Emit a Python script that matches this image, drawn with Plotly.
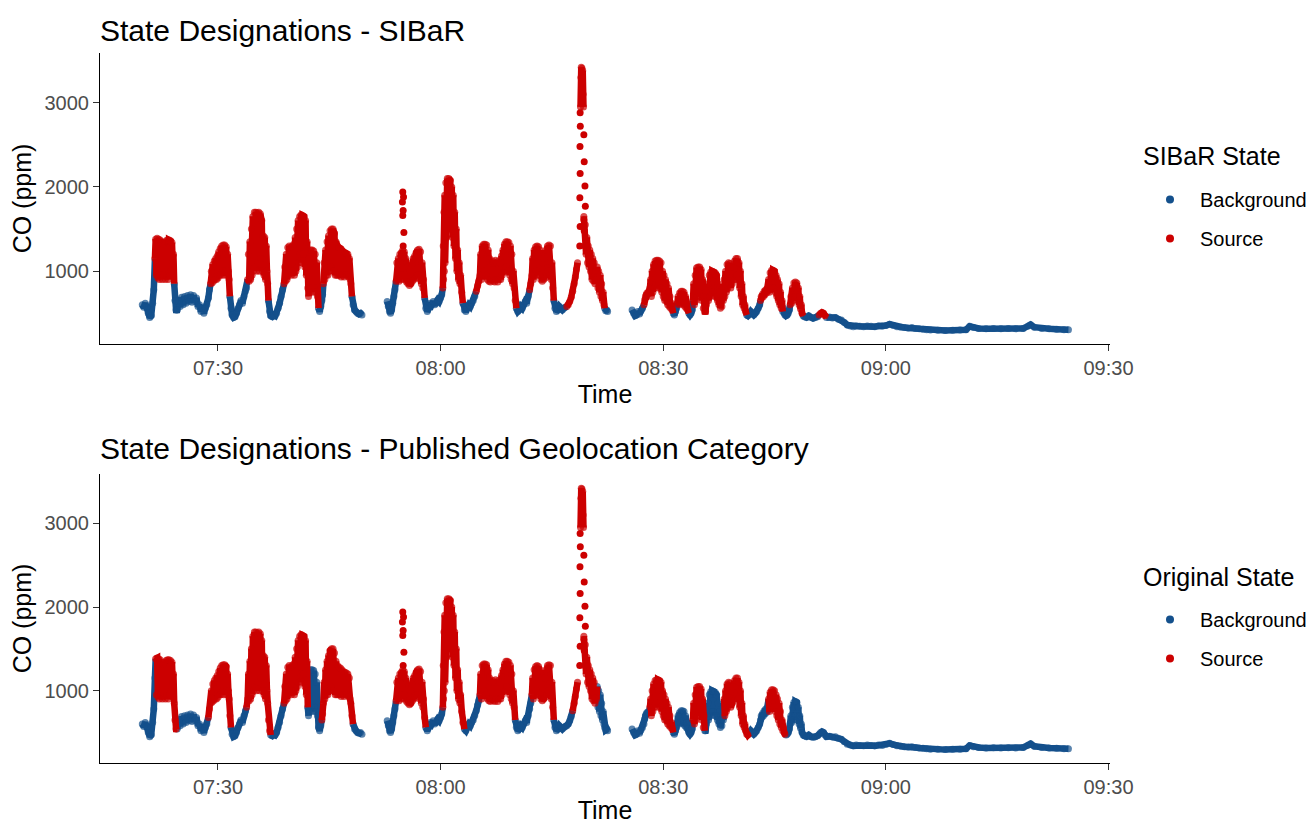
import pandas as pd
import plotly.graph_objects as go

BASE = pd.Timestamp("2019-01-01 07:00:00")
BLUE = "#14508C"
RED = "#CC0000"
FONT = "Liberation Sans, Arial, sans-serif"

# ---------------- data (time in minutes after 07:00, CO in ppm) ----------------
# segment A : 07:19.8 - 07:49.4
seg_a_t = [19.8, 20.0, 20.2, 20.4, 20.6, 20.8, 21.0, 21.2, 21.35,
           21.5, 21.6, 21.7, 21.8, 21.9, 22.0, 22.1, 22.2, 22.3, 22.4, 22.5, 22.6, 22.7,
           22.8, 22.9, 23.0, 23.1, 23.2, 23.3, 23.4, 23.5, 23.6, 23.7, 23.8, 23.9, 24.0,
           24.1, 24.2, 24.35, 24.5, 24.7, 24.9, 25.1, 25.3, 25.5, 25.7, 25.9, 26.1, 26.3,
           26.5, 26.7, 26.9, 27.1, 27.3, 27.5, 27.7, 27.9, 28.1, 28.3, 28.5, 28.7, 28.85,
           29.0, 29.1, 29.2, 29.3, 29.4, 29.5, 29.6, 29.7, 29.8, 29.9, 30.0, 30.1, 30.2,
           30.3, 30.4, 30.5, 30.6, 30.7, 30.8, 30.9, 31.0, 31.1, 31.2, 31.3, 31.4, 31.5,
           31.6, 31.75, 31.9, 32.1, 32.3, 32.5, 32.7, 32.9, 33.1, 33.3, 33.5, 33.7, 33.85,
           34.0, 34.1, 34.2, 34.3, 34.4, 34.5, 34.6, 34.7, 34.8, 34.9, 35.0, 35.1, 35.2,
           35.3, 35.4, 35.5, 35.6, 35.7, 35.8, 35.9, 36.0, 36.1, 36.2, 36.3, 36.4, 36.5,
           36.6, 36.7,
           36.8, 36.95, 37.1, 37.3, 37.5, 37.7, 37.9, 38.1, 38.3, 38.5, 38.7,
           38.9, 39.0, 39.1, 39.2, 39.3, 39.4, 39.5, 39.6, 39.7, 39.8, 39.9,
           40.0, 40.1, 40.2, 40.3, 40.4, 40.5, 40.6, 40.7, 40.8, 40.9,
           41.0, 41.1, 41.2, 41.3, 41.4, 41.5, 41.6, 41.7, 41.8, 41.9,
           42.0, 42.1, 42.2, 42.3, 42.4, 42.5, 42.6, 42.7, 42.8, 42.9,
           43.0, 43.1, 43.2, 43.3, 43.4,
           43.55, 43.7, 43.85, 44.0, 44.1,
           44.2, 44.3, 44.4, 44.5, 44.6, 44.7, 44.8, 44.9, 45.0, 45.1, 45.2, 45.3, 45.4,
           45.5, 45.6, 45.7, 45.8, 45.9, 46.0, 46.1, 46.2, 46.3, 46.4, 46.5, 46.6, 46.7,
           46.8, 46.9, 47.0, 47.1, 47.2, 47.3, 47.4, 47.5, 47.6, 47.7, 47.8, 47.9,
           48.05, 48.2, 48.4, 48.6, 48.8, 49.0, 49.2, 49.4]
seg_a_co = [600, 570, 620, 570, 500, 450, 470, 620, 780,
            1150, 1380, 950, 1390, 920, 1380, 900, 1370, 950, 1340, 900, 1320, 950,
            1340, 900, 1360, 940, 1370, 900, 1370, 950, 1360, 1000, 1340, 1100, 1200,
            850, 650, 540, 540, 640, 580, 690, 600, 700, 620, 710, 640, 720,
            630, 710, 640, 680, 580, 600, 520, 560, 500, 560, 600, 680, 780,
            850, 1000, 860, 1080, 880, 1120, 900, 1150, 900, 1180, 920, 1230, 950,
            1270, 950, 1300, 1000, 1310, 950, 1310, 1000, 1290, 950, 1200, 1000, 900,
            700, 560, 480, 450, 460, 500, 560, 600, 650, 620, 700, 760, 800,
            900, 1200, 880, 1350, 900, 1500, 950, 1650, 1000, 1700, 1050, 1700, 1000,
            1690, 1100, 1700, 1000, 1680, 1150, 1600, 1000, 1420, 950, 1400, 900, 1300,
            1000, 850,
            650, 520, 470, 460, 480, 470, 500, 560, 620, 700, 780,
            850, 1050, 880, 1200, 900, 1280, 950, 1300, 1000, 1280, 950,
            1300, 1000, 1320, 950, 1400, 1000, 1500, 1050, 1600, 1100,
            1650, 1200, 1670, 1100, 1660, 1200, 1650, 1050, 1600, 950,
            1350, 800, 700, 1150, 750, 1250, 800, 1250, 750, 1240,
            800, 1200, 750, 1100, 700,
            560, 520, 580, 650, 720,
            850, 1100, 900, 1250, 950, 1350, 950, 1420, 1000, 1480, 1050, 1500, 1000,
            1500, 1000, 1450, 950, 1350, 950, 1300, 950, 1280, 950, 1270, 930, 1250,
            950, 1230, 930, 1220, 950, 1210, 950, 1200, 930, 1150, 900, 850,
            700, 600, 540, 520, 500, 490, 500, 480]

# segment B : 07:52.8 - 08:22.5 (None = no dense reading, spike edges are sparse dots)
seg_b_t = [52.8, 52.95, 53.1, 53.25, 53.4, 53.55, 53.7, 53.85,
           54.0, 54.1, 54.2, 54.3, 54.4, 54.5, 54.6, 54.7, 54.8, 54.9,
           55.0, 55.1, 55.2, 55.3, 55.4, 55.5, 55.6, 55.7, 55.8, 55.9,
           56.0, 56.1, 56.2, 56.3, 56.4, 56.5, 56.6, 56.7, 56.8, 56.9,
           57.0, 57.1, 57.2, 57.3, 57.4, 57.5, 57.6, 57.7,
           57.85, 58.0, 58.2, 58.4, 58.6, 58.8, 59.0, 59.2, 59.4, 59.6, 59.8, 60.0, 60.15,
           60.3, 60.35, 60.4, 60.45, 60.5, 60.55, 60.6, 60.7, 60.8, 60.9, 61.0, 61.1, 61.2,
           61.3, 61.4, 61.5, 61.6, 61.7, 61.8, 61.9, 62.0, 62.1, 62.2, 62.3, 62.4, 62.5,
           62.6, 62.7, 62.85,
           63.0, 63.2, 63.4, 63.6, 63.8, 64.0, 64.2, 64.4, 64.6, 64.8, 65.0, 65.15,
           65.3, 65.4, 65.5, 65.6, 65.7, 65.8, 65.9, 66.0, 66.1, 66.2,
           66.3, 66.4, 66.5, 66.6, 66.7, 66.8, 66.9, 67.0, 67.1, 67.2,
           67.3, 67.4, 67.5, 67.6, 67.7, 67.8, 67.9, 68.0, 68.1, 68.2,
           68.3, 68.4, 68.5, 68.6, 68.7, 68.8, 68.9, 69.0, 69.1, 69.2,
           69.3, 69.4, 69.5, 69.6, 69.7, 69.8, 69.9,
           70.05, 70.2, 70.4, 70.6, 70.8, 71.0, 71.2, 71.4, 71.6, 71.8, 72.0, 72.15,
           72.3, 72.4, 72.5, 72.6, 72.7, 72.8, 72.9, 73.0, 73.1, 73.2,
           73.3, 73.4, 73.5, 73.6, 73.7, 73.8, 73.9, 74.0, 74.1, 74.2,
           74.3, 74.4, 74.5, 74.6, 74.7, 74.8, 74.9, 75.0, 75.1,
           75.25, 75.4, 75.6, 75.8, 76.0, 76.2, 76.4, 76.6, 76.8,
           77.0, 77.2, 77.4, 77.6, 77.8, 78.0, 78.15, 78.3, 78.45,
           78.6,
           78.85, 78.9, 78.95, 79.0, 79.05, 79.1, 79.15, 79.2, 79.25,
           79.28,
           79.3, 79.4, 79.5, 79.6, 79.7, 79.8, 79.9, 80.0, 80.1, 80.2,
           80.3, 80.4, 80.5, 80.6, 80.7, 80.8, 80.9, 81.0, 81.1, 81.2,
           81.3, 81.4, 81.5, 81.6, 81.7, 81.8, 81.9, 82.0,
           82.1, 82.25, 82.4, 82.5]
seg_b_co = [640, 580, 520, 500, 540, 620, 700, 780,
            880, 1100, 900, 1150, 880, 1200, 900, 1220, 950, 1250,
            900, 1230, 950, 1150, 870, 1100, 850, 1050, 830, 1000,
            850, 1080, 880, 1150, 900, 1180, 920, 1220, 950, 1250,
            950, 1260, 900, 1230, 850, 1100, 800, 900,
            680, 560, 520, 560, 620, 600, 640, 600, 620, 660, 640, 680, 720,
            800, 1300, 900, 1700, 1000, 1900, 1100, 2050, 1400, 2100, 1600, 2100, 1700,
            2080, 1500, 2000, 1400, 1900, 1300, 1700, 1150, 1500, 1000, 1250, 900, 1100,
            850, 950, 750,
            620, 540, 520, 560, 600, 580, 620, 650, 700, 760, 830, 880,
            950, 1200, 900, 1300, 950, 1320, 1000, 1320, 950, 1310,
            900, 1250, 880, 1150, 870, 1100, 900, 1120, 880, 1100,
            870, 1130, 900, 1100, 870, 1120, 900, 1100, 900, 1180,
            950, 1250, 1000, 1320, 1000, 1350, 1050, 1350, 1000, 1340,
            950, 1300, 900, 1200, 850, 1000, 800,
            650, 560, 520, 540, 580, 560, 600, 640, 620, 700, 780, 850,
            950, 1150, 900, 1250, 950, 1290, 1000, 1300, 950, 1290,
            950, 1250, 900, 1150, 880, 1100, 900, 1150, 920, 1250,
            950, 1300, 1000, 1310, 950, 1300, 900, 1100, 800,
            650, 560, 520, 540, 580, 560, 540, 560, 570,
            580, 600, 640, 690, 760, 850, 930, 1020, 1100,
            None,
            2950, 3300, 3420, 3150, 3410, 3250, 3380, 3100, 2950,
            None,
            1650, 1300, 1550, 1200, 1400, 1100, 1300, 1050, 1250, 1000,
            1200, 900, 1150, 880, 1100, 850, 1000, 900, 1050, 800,
            1000, 750, 950, 700, 850, 650, 750, 600,
            560, 530, 540, 520]

# segment C : 08:25.8 - 09:24.6
seg_c_t = [85.8, 86.0, 86.2, 86.4, 86.6, 86.8, 87.0, 87.2,
           87.4, 87.5, 87.6, 87.7, 87.8, 87.9, 88.0, 88.1,
           88.2, 88.3, 88.4, 88.5, 88.6, 88.7, 88.8, 88.9, 89.0, 89.1,
           89.2, 89.3, 89.4, 89.5, 89.6, 89.7, 89.8, 89.9, 90.0, 90.1,
           90.2, 90.3, 90.4, 90.5, 90.6, 90.7, 90.8, 90.9, 91.0, 91.1, 91.2,
           91.35, 91.5, 91.65, 91.8,
           91.9, 92.0, 92.1, 92.2, 92.3, 92.4, 92.5, 92.6, 92.7, 92.8, 92.9, 93.0, 93.1, 93.2, 93.3,
           93.45, 93.6, 93.75, 93.9,
           94.0, 94.1, 94.2, 94.3, 94.4, 94.5, 94.6, 94.7, 94.8, 94.9,
           95.0, 95.1, 95.2, 95.3, 95.4, 95.5, 95.6, 95.7, 95.8, 95.9,
           96.0, 96.1, 96.2, 96.3, 96.4, 96.5, 96.6, 96.7, 96.8, 96.9,
           97.0, 97.1, 97.2, 97.3, 97.4, 97.5, 97.6, 97.7, 97.8, 97.9,
           98.0, 98.1, 98.2, 98.3, 98.4, 98.5, 98.6, 98.7, 98.8, 98.9,
           99.0, 99.1, 99.2, 99.3, 99.4, 99.5, 99.6, 99.7, 99.8, 99.9,
           100.0, 100.1, 100.2, 100.3, 100.4, 100.5, 100.6, 100.7, 100.8, 100.9,
           101.0, 101.1,
           101.25, 101.4, 101.6, 101.8, 102.0, 102.2, 102.4, 102.6, 102.8, 103.0,
           103.1, 103.2, 103.3, 103.4, 103.5, 103.6, 103.7, 103.8, 103.9, 104.0,
           104.1, 104.2, 104.3, 104.4, 104.5, 104.6, 104.7, 104.8, 104.9, 105.0,
           105.1, 105.2, 105.3, 105.4, 105.5, 105.6, 105.7, 105.8, 105.9, 106.0,
           106.1, 106.2, 106.3, 106.4,
           106.55, 106.7, 106.85, 107.0,
           107.1, 107.2, 107.3, 107.4, 107.5, 107.6, 107.7, 107.8, 107.9, 108.0,
           108.1, 108.2, 108.3, 108.4, 108.5, 108.6, 108.7,
           108.85, 109.0, 109.3, 109.6, 109.9, 110.2, 110.5, 110.8,
           111.0, 111.2, 111.4, 111.6, 111.8,
           112.0, 112.4, 112.8, 113.2, 113.6, 114.0, 114.4, 114.8, 115.2, 115.6,
           116.0, 116.5, 117.0, 117.5, 118.0, 118.5, 119.0, 119.5, 120.0, 120.5,
           121.0, 121.5, 122.0, 122.5, 123.0, 123.5, 124.0, 124.5, 125.0, 125.5,
           126.0, 127.0, 128.0, 129.0, 130.0, 130.8, 131.3, 131.8, 132.5, 133.5,
           134.5, 135.5, 136.5, 137.5, 138.5, 139.2, 139.5, 140.0, 141.0, 142.0,
           143.0, 144.0, 144.6]
seg_c_co = [540, 500, 470, 480, 520, 490, 530, 560,
            600, 660, 700, 720, 740, 730, 750, 740,
            800, 900, 700, 1000, 750, 1080, 800, 1120, 850, 1130,
            800, 1130, 850, 1120, 800, 1100, 750, 1000, 700, 950,
            650, 900, 650, 850, 600, 800, 580, 700, 560, 620, 540,
            500, 480, 520, 560,
            620, 700, 600, 740, 620, 760, 640, 760, 600, 750, 580, 700, 560, 620, 540,
            500, 480, 500, 540,
            650, 850, 600, 950, 650, 1040, 700, 1050, 750, 1050,
            700, 1020, 650, 900, 560, 700, 520, 520, 600, 700,
            850, 650, 950, 700, 990, 750, 1000, 750, 990, 700,
            980, 700, 950, 650, 850, 600, 750, 560, 650, 580,
            700, 650, 900, 700, 1000, 750, 1080, 800, 1100, 850,
            1090, 800, 1000, 850, 1050, 900, 1120, 900, 1150, 950,
            1150, 900, 1100, 800, 1000, 700, 850, 600, 700, 560,
            600, 520,
            480, 470, 490, 520, 500, 480, 500, 520, 560, 600,
            650, 700, 680, 730, 700, 760, 720, 780, 740, 790,
            760, 900, 750, 980, 780, 1010, 800, 1010, 800, 1000,
            750, 950, 700, 900, 650, 850, 600, 750, 560, 650,
            520, 560, 500, 480,
            470, 480, 500, 540,
            600, 700, 620, 800, 650, 860, 700, 870, 700, 860,
            650, 800, 600, 700, 550, 600, 500,
            470, 460, 450, 470, 450, 440, 450, 460,
            480, 500, 510, 500, 470,
            450, 455, 445, 450, 430, 420, 390, 360, 350, 340,
            350, 345, 340, 350, 345, 340, 350, 345, 355, 370,
            355, 340, 335, 330, 325, 330, 320, 315, 310, 305,
            300, 298, 295, 298, 300, 305, 345, 330, 320, 315,
            318, 315, 318, 315, 320, 350, 365, 335, 320, 315,
            310, 305, 305]

# sparse (isolated) readings on fast rises
dots_t = [54.9, 55.0, 54.85, 54.95, 54.9, 55.05, 54.95,
          78.8, 78.82, 78.78, 78.8, 78.76, 78.8, 78.75,
          79.3, 79.35, 79.45, 79.5, 79.3, 79.35]
dots_co = [1940, 1880, 1820, 1720, 1660, 1460, 1300,
           2880, 2720, 2480, 2160, 1870, 1530, 1300,
           2620, 2300, 2010, 1770, 1610, 1480]

# state designations as source intervals (minutes after 07:00)
sibar_source = [(21.45, 24.05), (28.95, 31.55), (33.95, 36.75), (38.85, 43.45),
                (44.15, 47.95), (53.95, 57.75), (60.25, 62.9), (64.75, 70.1),
                (71.95, 75.15), (76.9, 82.05), (87.3, 91.25), (91.85, 93.35),
                (93.95, 101.15), (103.05, 106.05), (107.05, 108.75), (110.95, 111.85)]
orig_source = [(21.55, 24.4), (28.65, 31.65), (33.8, 37.0), (38.85, 42.05),
               (43.95, 48.1), (53.95, 57.9), (60.25, 63.05), (65.25, 69.95),
               (72.25, 75.15), (77.7, 81.05), (88.15, 91.25), (93.95, 95.55),
               (98.15, 101.45), (104.15, 106.45)]

x_tick_minutes = [30, 60, 90, 120, 150]
x_tick_labels = ["07:30", "08:00", "08:30", "09:00", "09:30"]
y_ticks = [1000, 2000, 3000]

assert len(seg_a_t) == len(seg_a_co), (len(seg_a_t), len(seg_a_co))
assert len(seg_b_t) == len(seg_b_co), (len(seg_b_t), len(seg_b_co))
assert len(seg_c_t) == len(seg_c_co), (len(seg_c_t), len(seg_c_co))
assert len(dots_t) == len(dots_co)

series_t = seg_a_t + [51.0] + seg_b_t + [84.0] + seg_c_t
series_co = seg_a_co + [None] + seg_b_co + [None] + seg_c_co


def tm(m):
    return BASE + pd.Timedelta(minutes=m)


def state_of(m, intervals):
    return "Source" if any(a <= m <= b for a, b in intervals) else "Background"


fig = go.Figure()

panels = [("x", "y", sibar_source, "legend"),
          ("x2", "y2", orig_source, "legend2")]

for xa, ya, intervals, leg in panels:
    states = [state_of(m, intervals) for m in series_t]
    for name, color in [("Background", BLUE), ("Source", RED)]:
        xs, ys, sizes = [], [], []
        for i, (m, c) in enumerate(zip(series_t, series_co)):
            own = c is not None and states[i] == name
            prev = (i > 0 and c is not None and series_co[i - 1] is not None
                    and states[i - 1] == name)
            if own or prev:
                xs.append(tm(m)); ys.append(c); sizes.append(7 if own else 0)
            else:
                xs.append(None); ys.append(None); sizes.append(0)
        fig.add_trace(go.Scatter(
            x=xs, y=ys, mode="lines+markers", xaxis=xa, yaxis=ya,
            line=dict(color=color, width=6.5),
            marker=dict(color=color, size=sizes, line=dict(width=0)),
            showlegend=False, hoverinfo="skip"))
    fig.add_trace(go.Scatter(
        x=[tm(m) for m in dots_t], y=dots_co, mode="markers", xaxis=xa, yaxis=ya,
        marker=dict(color=RED, size=7, line=dict(width=0)),
        showlegend=False, hoverinfo="skip"))
    for name, color in [("Background", BLUE), ("Source", RED)]:
        fig.add_trace(go.Scatter(
            x=[None], y=[None], mode="markers", xaxis=xa, yaxis=ya,
            marker=dict(color=color, size=8), name=name, legend=leg,
            legendgroup=leg + name, showlegend=True))

x_range = [tm(14.1), tm(150.2)]
y_range = [135, 3590]

axis_x = dict(type="date", range=x_range,
              tickvals=[tm(m) for m in x_tick_minutes], ticktext=x_tick_labels,
              showline=True, linecolor="black", linewidth=1.2, ticks="outside",
              ticklen=6, tickwidth=1.1, tickcolor="#333333", showgrid=False,
              zeroline=False, tickfont=dict(size=20, color="#4D4D4D", family=FONT),
              title=dict(text="Time", font=dict(size=25, color="black", family=FONT),
                         standoff=7))
axis_y = dict(range=y_range, tickvals=y_ticks, showline=True, linecolor="black",
              linewidth=1.2, ticks="outside", ticklen=6, tickwidth=1.1,
              tickcolor="#333333", showgrid=False, zeroline=False,
              tickfont=dict(size=20, color="#4D4D4D", family=FONT),
              title=dict(text="CO (ppm)", font=dict(size=25, color="black", family=FONT),
                         standoff=5))

M_T, M_B = 53, 61
PH = 824 - M_T - M_B
PW = 1314 - 100 - 204


def py(pix):
    return (824 - M_B - pix) / PH


def px(pix):
    return (pix - 100) / PW


legend_common = dict(xanchor="left", yanchor="top", font=dict(size=20, family=FONT),
                     tracegroupgap=10, itemwidth=50, bgcolor="rgba(0,0,0,0)")

fig.update_layout(
    width=1314, height=824,
    margin=dict(l=100, r=204, t=M_T, b=M_B, autoexpand=False),
    paper_bgcolor="white", plot_bgcolor="white",
    font=dict(family=FONT, color="black"),
    xaxis=dict(axis_x, domain=[0, 1], anchor="y"),
    yaxis=dict(axis_y, domain=[py(344), 1], anchor="x"),
    xaxis2=dict(axis_x, domain=[0, 1], anchor="y2"),
    yaxis2=dict(axis_y, domain=[0, py(474)], anchor="x2"),
    legend=dict(legend_common, x=px(1140), y=py(180)),
    legend2=dict(legend_common, x=px(1140), y=py(600)),
    annotations=[
        dict(text="State Designations - SIBaR", x=-0.002, y=py(30), xref="paper",
             yref="paper", xanchor="left", yanchor="middle", showarrow=False,
             font=dict(size=30, color="black", family=FONT)),
        dict(text="State Designations - Published Geolocation Category", x=-0.002,
             y=py(449), xref="paper", yref="paper", xanchor="left", yanchor="middle",
             showarrow=False, font=dict(size=30, color="black", family=FONT)),
        dict(text="SIBaR State", x=px(1141), y=py(156), xref="paper", yref="paper",
             xanchor="left", yanchor="middle", showarrow=False,
             font=dict(size=25, color="black", family=FONT)),
        dict(text="Original State", x=px(1141), y=py(577), xref="paper", yref="paper",
             xanchor="left", yanchor="middle", showarrow=False,
             font=dict(size=25, color="black", family=FONT)),
    ],
)

fig.write_html("out.html")
